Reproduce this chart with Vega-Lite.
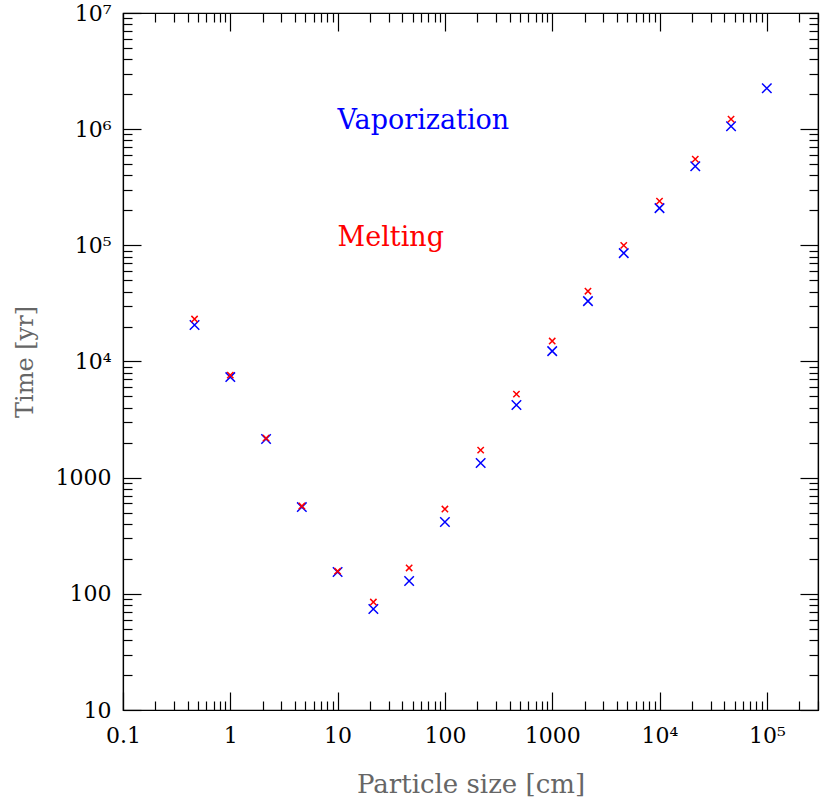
{
  "$schema": "https://vega.github.io/schema/vega-lite/v6.json",
  "autosize": "none",
  "width": 695,
  "height": 697,
  "padding": {"left": 123, "top": 13, "right": 12, "bottom": 90},
  "background": "white",
  "config": {
    "view": {"stroke": "black", "strokeWidth": 1.2},
    "axis": {
      "grid": false,
      "domainColor": "black",
      "domainWidth": 1.2,
      "tickColor": "black",
      "tickWidth": 1.2,
      "labelColor": "black",
      "titleColor": "#666666",
      "labelFont": "DejaVu Serif",
      "titleFont": "DejaVu Serif",
      "labelFontSize": 22,
      "titleFontSize": 24,
      "titleFontWeight": "normal",
      "labelOverlap": false,
      "labelFlush": false
    }
  },
  "datasets": {
    "pts": [
      {"size": 0.4642, "time": 20600, "process": "Vaporization"},
      {"size": 1, "time": 7340, "process": "Vaporization"},
      {"size": 2.154, "time": 2150, "process": "Vaporization"},
      {"size": 4.642, "time": 558, "process": "Vaporization"},
      {"size": 10, "time": 154, "process": "Vaporization"},
      {"size": 21.54, "time": 74, "process": "Vaporization"},
      {"size": 46.42, "time": 129, "process": "Vaporization"},
      {"size": 100, "time": 415, "process": "Vaporization"},
      {"size": 215.4, "time": 1336, "process": "Vaporization"},
      {"size": 464.2, "time": 4217, "process": "Vaporization"},
      {"size": 1000, "time": 12280, "process": "Vaporization"},
      {"size": 2154, "time": 33100, "process": "Vaporization"},
      {"size": 4642, "time": 85700, "process": "Vaporization"},
      {"size": 10000, "time": 209000, "process": "Vaporization"},
      {"size": 21544, "time": 480000, "process": "Vaporization"},
      {"size": 46416, "time": 1060000, "process": "Vaporization"},
      {"size": 100000, "time": 2250000, "process": "Vaporization"},
      {"size": 0.4642, "time": 23200, "process": "Melting"},
      {"size": 1, "time": 7640, "process": "Melting"},
      {"size": 2.154, "time": 2190, "process": "Melting"},
      {"size": 4.642, "time": 570, "process": "Melting"},
      {"size": 10, "time": 157, "process": "Melting"},
      {"size": 21.54, "time": 85, "process": "Melting"},
      {"size": 46.42, "time": 167, "process": "Melting"},
      {"size": 100, "time": 537, "process": "Melting"},
      {"size": 215.4, "time": 1728, "process": "Melting"},
      {"size": 464.2, "time": 5240, "process": "Melting"},
      {"size": 1000, "time": 15000, "process": "Melting"},
      {"size": 2154, "time": 40300, "process": "Melting"},
      {"size": 4642, "time": 100000, "process": "Melting"},
      {"size": 10000, "time": 240000, "process": "Melting"},
      {"size": 21544, "time": 552000, "process": "Melting"},
      {"size": 46416, "time": 1220000, "process": "Melting"}
    ],
    "labels": [
      {"x": 10, "y": 1170000, "label": "Vaporization"},
      {"x": 10, "y": 115000, "label": "Melting"}
    ]
  },
  "layer": [
    {
      "data": {"name": "pts"},
      "mark": {"type": "point", "shape": "M-1,-1L1,1M-1,1L1,-1", "filled": false, "strokeWidth": 1.5, "opacity": 1},
      "encoding": {
        "x": {
          "field": "size", "type": "quantitative",
          "scale": {"type": "log", "domain": [0.1, 300000], "nice": false},
          "axis": {
            "orient": "bottom",
            "title": "Particle size [cm]",
            "titleFontSize": 26,
            "titlePadding": 16,
            "values": [0.1,0.2,0.3,0.4,0.5,0.6,0.7,0.8,0.9,1,2,3,4,5,6,7,8,9,10,20,30,40,50,60,70,80,90,100,200,300,400,500,600,700,800,900,1000,2000,3000,4000,5000,6000,7000,8000,9000,10000,20000,30000,40000,50000,60000,70000,80000,90000,100000,200000,300000],
            "tickSize": {"condition": {"test": "indexof([0.1,1,10,100,1000,10000,100000], datum.value) >= 0", "value": -18}, "value": -9},
            "labelPadding": 33,
            "labelExpr": "datum.value==0.1?'0.1':datum.value==1?'1':datum.value==10?'10':datum.value==100?'100':datum.value==1000?'1000':datum.value==10000?'10⁴':datum.value==100000?'10⁵':''"
          }
        },
        "y": {
          "field": "time", "type": "quantitative",
          "scale": {"type": "log", "domain": [10, 10000000], "nice": false},
          "axis": {
            "orient": "left",
            "title": "Time [yr]",
            "titlePadding": 18,
            "values": [10,20,30,40,50,60,70,80,90,100,200,300,400,500,600,700,800,900,1000,2000,3000,4000,5000,6000,7000,8000,9000,10000,20000,30000,40000,50000,60000,70000,80000,90000,100000,200000,300000,400000,500000,600000,700000,800000,900000,1000000,2000000,3000000,4000000,5000000,6000000,7000000,8000000,9000000,10000000],
            "tickSize": {"condition": {"test": "indexof([10,100,1000,10000,100000,1000000,10000000], datum.value) >= 0", "value": -18}, "value": -9},
            "labelPadding": 30,
            "labelExpr": "datum.value==10?'10':datum.value==100?'100':datum.value==1000?'1000':datum.value==10000?'10⁴':datum.value==100000?'10⁵':datum.value==1000000?'10⁶':datum.value==10000000?'10⁷':''"
          }
        },
        "color": {"field": "process", "type": "nominal", "scale": {"domain": ["Vaporization", "Melting"], "range": ["#0000ff", "#ff0000"]}, "legend": null},
        "size": {"field": "process", "type": "nominal", "scale": {"domain": ["Vaporization", "Melting"], "range": [90, 40]}, "legend": null}
      }
    },
    {
      "data": {"name": "labels"},
      "mark": {"type": "text", "align": "left", "baseline": "middle", "font": "DejaVu Serif", "fontSize": 27},
      "encoding": {
        "x": {
          "field": "x", "type": "quantitative",
          "axis": {
            "orient": "top", "title": null, "labels": false,
            "values": [0.1,0.2,0.3,0.4,0.5,0.6,0.7,0.8,0.9,1,2,3,4,5,6,7,8,9,10,20,30,40,50,60,70,80,90,100,200,300,400,500,600,700,800,900,1000,2000,3000,4000,5000,6000,7000,8000,9000,10000,20000,30000,40000,50000,60000,70000,80000,90000,100000,200000,300000],
            "tickSize": {"condition": {"test": "indexof([0.1,1,10,100,1000,10000,100000], datum.value) >= 0", "value": -18}, "value": -9}
          }
        },
        "y": {
          "field": "y", "type": "quantitative",
          "axis": {
            "orient": "right", "title": null, "labels": false,
            "values": [10,20,30,40,50,60,70,80,90,100,200,300,400,500,600,700,800,900,1000,2000,3000,4000,5000,6000,7000,8000,9000,10000,20000,30000,40000,50000,60000,70000,80000,90000,100000,200000,300000,400000,500000,600000,700000,800000,900000,1000000,2000000,3000000,4000000,5000000,6000000,7000000,8000000,9000000,10000000],
            "tickSize": {"condition": {"test": "indexof([10,100,1000,10000,100000,1000000,10000000], datum.value) >= 0", "value": -18}, "value": -9}
          }
        },
        "text": {"field": "label"},
        "color": {"field": "label", "type": "nominal", "legend": null}
      }
    }
  ],
  "resolve": {"axis": {"x": "independent", "y": "independent"}}
}
